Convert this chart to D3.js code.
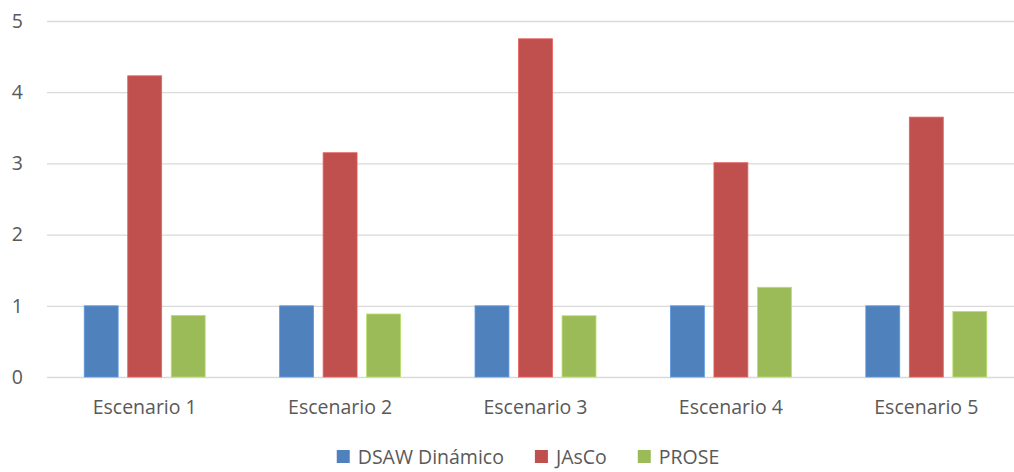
<!DOCTYPE html>
<html>
<head>
<meta charset="utf-8">
<script src="https://cdn.jsdelivr.net/npm/d3@7"></script>
<style>
  body { margin: 0; background: #fff; }
  text { font-family: "Open Sans", "Liberation Sans", sans-serif; fill: #595959; }
</style>
</head>
<body>
<svg id="chart"></svg>
<script>
var categories = ["Escenario 1", "Escenario 2", "Escenario 3", "Escenario 4", "Escenario 5"];
var seriesNames = ["DSAW Dinámico", "JAsCo", "PROSE"];
var dsaw  = [1, 1, 1, 1, 1];
var jasco = [4.23, 3.15, 4.75, 3.01, 3.65];
var prose = [0.865, 0.885, 0.86, 1.26, 0.92];
var yTicks = [0, 1, 2, 3, 4, 5];
var colors = ["#4F81BD", "#C0504D", "#9BBB59"];

var width = 1014, height = 472;
var margin = { top: 21, bottom: 95, left: 47, right: -10 };
var fontSize = '19.5px';

var svg = d3.select('#chart')
            .attr('width', width)
            .attr('height', height);

var xScale = d3.scaleBand()
               .domain(categories)
               .range([margin.left, width - margin.right]);

var xInner = d3.scaleBand()
               .domain(seriesNames)
               .range([0, xScale.bandwidth()])
               .paddingInner(0.22)
               .paddingOuter(0.855);

var yScale = d3.scaleLinear()
               .domain([0, 5])
               .range([height - margin.bottom, margin.top]);

// gridlines + y labels
var yAxis = d3.axisLeft(yScale)
              .tickValues(yTicks)
              .tickFormat(d3.format('d'))
              .tickSize(-(width - margin.left - margin.right))
              .tickPadding(24);

var yG = svg.append('g')
            .attr('class', 'y_axis')
            .attr('transform', 'translate(' + margin.left + ',0)')
            .call(yAxis);
yG.select('.domain').remove();
yG.selectAll('line').attr('stroke', '#d9d9d9').attr('stroke-width', 1.3);
yG.selectAll('text')
  .attr('font-size', fontSize)
  .attr('fill', '#595959')
  .style('font-family', '"Open Sans", sans-serif');

var rows = categories.map(function (c, i) {
  return { cat: c, vals: [dsaw[i], jasco[i], prose[i]] };
});

var groups = svg.selectAll('g.group')
                .data(rows)
                .enter()
                .append('g')
                .attr('class', 'group')
                .attr('transform', function (d) { return 'translate(' + xScale(d.cat) + ',0)'; });

groups.selectAll('rect')
      .data(function (d) { return d.vals.map(function (v, j) { return { name: seriesNames[j], v: v, j: j }; }); })
      .enter()
      .append('rect')
      .attr('x', function (d) { return xInner(d.name); })
      .attr('width', xInner.bandwidth())
      .attr('y', function (d) { return yScale(d.v); })
      .attr('height', function (d) { return yScale(0) - yScale(d.v); })
      .style('fill', function (d) { return colors[d.j]; })
      .style('stroke', function (d) { return d3.color(colors[d.j]).brighter(0.5); })
      .style('stroke-width', 0.8);

// x axis labels
var xAxis = d3.axisBottom(xScale).tickSize(0).tickPadding(23);
var xG = svg.append('g')
            .attr('class', 'x_axis')
            .attr('transform', 'translate(0,' + yScale(0) + ')')
            .call(xAxis);
xG.select('.domain').remove();
xG.selectAll('text')
  .attr('font-size', fontSize)
  .attr('fill', '#595959')
  .style('font-family', '"Open Sans", sans-serif');

// legend, laid out from measured text widths and centred
var legend = svg.append('g').attr('class', 'legend');
var items = legend.selectAll('g')
                  .data(seriesNames)
                  .enter()
                  .append('g');
items.append('rect')
     .attr('width', 13).attr('height', 13)
     .attr('y', -14)
     .style('fill', function (d, i) { return colors[i]; });
items.append('text')
     .attr('x', 21)
     .attr('y', 0)
     .attr('font-size', fontSize)
     .text(function (d) { return d; });

var gap = 31;
var offs = [], cur = 0;
items.each(function () {
  offs.push(cur);
  cur += this.getBBox().width + gap;
});
var total = cur - gap;
var startX = 528 - total / 2;
items.attr('transform', function (d, i) { return 'translate(' + (startX + offs[i]) + ',464)'; });
</script>
</body>
</html>
